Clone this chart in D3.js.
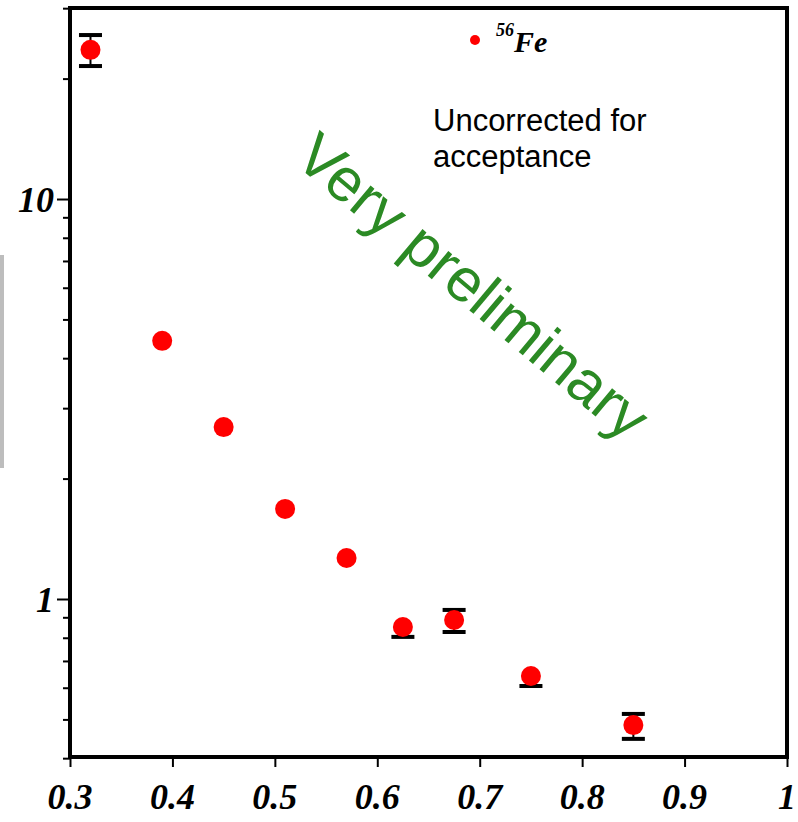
<!DOCTYPE html>
<html><head><meta charset="utf-8">
<script src="https://cdn.jsdelivr.net/npm/d3@7"></script>
<style>body{margin:0;background:#fff}</style></head>
<body>
<svg id="c" width="798" height="822"></svg>
<script>
const xValues = [0.32, 0.39, 0.45, 0.51, 0.57, 0.625, 0.675, 0.75, 0.85];
const yValues = [23.6, 4.42, 2.69, 1.68, 1.266, 0.851, 0.886, 0.642, 0.484];
const errLow  = [21.5, null, null, null, null, 0.804, 0.827, 0.606, 0.447];
const errHigh = [25.7, null, null, null, null, null, 0.939, null, 0.516];
const xTicks = [0.3, 0.4, 0.5, 0.6, 0.7, 0.8, 0.9, 1.0];
const xTickLabels = ["0.3", "0.4", "0.5", "0.6", "0.7", "0.8", "0.9", "1"];
const yMajor = [1, 10];
const yMajorLabels = ["1", "10"];
const yMinor = [0.4, 0.5, 0.6, 0.7, 0.8, 0.9, 2, 3, 4, 5, 6, 7, 8, 9, 20, 30];
const legendLabel = {sup: "56", main: "Fe"};
const note = ["Uncorrected for", "acceptance"];
const watermark = "Very preliminary";

const svg = d3.select("#c");
const L = 70, R = 787, T = 8, B = 757;
const x = d3.scaleLinear().domain([0.3, 1.0]).range([L, R]);
const y = d3.scaleLog().domain([0.4027, 30.03]).range([B, T]);

// gray artifact bar at left
svg.append("rect").attr("x", 0).attr("y", 255).attr("width", 4).attr("height", 213).attr("fill", "#bdbdbd");

// watermark
svg.append("text")
  .attr("transform", `translate(470,290) rotate(40)`)
  .attr("text-anchor", "middle").attr("dominant-baseline", "middle")
  .attr("font-family", "Liberation Sans, Arial, sans-serif")
  .attr("font-size", 61).attr("fill", "#2b8a24")
  .text(watermark);

// note text
const nt = svg.append("text").attr("font-family", "Liberation Sans, Arial, sans-serif")
  .attr("font-size", 31).attr("fill", "#000");
note.forEach((s, i) => nt.append("tspan").attr("x", 433).attr("y", 131 + i * 36).text(s));

// legend
svg.append("circle").attr("cx", 475).attr("cy", 40).attr("r", 5).attr("fill", "#f00");
const lt = svg.append("text").attr("x", 496).attr("y", 52)
  .attr("font-family", "Liberation Serif, Times New Roman, serif")
  .attr("font-weight", "bold").attr("font-style", "italic").attr("fill", "#000");
lt.append("tspan").attr("font-size", 18).attr("dy", -16).text(legendLabel.sup);
lt.append("tspan").attr("font-size", 30).attr("dy", 16).text(legendLabel.main);

// axes ticks
const xAxis = d3.axisBottom(x).tickValues(xTicks).tickSize(10).tickFormat("");
const gx = svg.append("g").attr("transform", `translate(0,${B})`).call(xAxis);
gx.select(".domain").remove();
gx.selectAll("line").attr("stroke", "#000").attr("stroke-width", 2);

const gyMaj = svg.append("g").attr("transform", `translate(${L},0)`)
  .call(d3.axisLeft(y).tickValues(yMajor).tickSize(13).tickFormat(""));
gyMaj.select(".domain").remove();
gyMaj.selectAll("line").attr("stroke", "#000").attr("stroke-width", 2);
const gyMin = svg.append("g").attr("transform", `translate(${L},0)`)
  .call(d3.axisLeft(y).tickValues(yMinor).tickSize(7).tickFormat(""));
gyMin.select(".domain").remove();
gyMin.selectAll("line").attr("stroke", "#000").attr("stroke-width", 2);

// tick labels
const lblFont = "Liberation Serif, Times New Roman, serif";
svg.append("g").selectAll("text").data(xTicks).join("text")
  .attr("x", d => x(d)).attr("y", 809).attr("text-anchor", "middle")
  .attr("font-family", lblFont).attr("font-weight", "bold").attr("font-style", "italic")
  .attr("font-size", 36).attr("fill", "#000")
  .text((d, i) => xTickLabels[i]);
svg.append("g").selectAll("text").data(yMajor).join("text")
  .attr("x", 54).attr("y", d => y(d) + 13).attr("text-anchor", "end")
  .attr("font-family", lblFont).attr("font-weight", "bold").attr("font-style", "italic")
  .attr("font-size", 36).attr("fill", "#000")
  .text((d, i) => yMajorLabels[i]);

// frame
svg.append("rect").attr("x", L).attr("y", T).attr("width", R - L).attr("height", B - T)
  .attr("fill", "none").attr("stroke", "#000").attr("stroke-width", 4);

// error bars
const data = xValues.map((v, i) => ({x: v, y: yValues[i], lo: errLow[i], hi: errHigh[i]}));
const eb = svg.append("g");
data.forEach(d => {
  if (d.lo != null) {
    eb.append("line").attr("x1", x(d.x)).attr("x2", x(d.x)).attr("y1", y(d.y)).attr("y2", y(d.lo))
      .attr("stroke", "#000").attr("stroke-width", 2);
    eb.append("rect").attr("x", x(d.x) - 11.5).attr("y", y(d.lo) - 2).attr("width", 23).attr("height", 4).attr("fill", "#000");
  }
  if (d.hi != null) {
    eb.append("line").attr("x1", x(d.x)).attr("x2", x(d.x)).attr("y1", y(d.y)).attr("y2", y(d.hi))
      .attr("stroke", "#000").attr("stroke-width", 2);
    eb.append("rect").attr("x", x(d.x) - 11.5).attr("y", y(d.hi) - 2).attr("width", 23).attr("height", 4).attr("fill", "#000");
  }
});

// points
svg.append("g").selectAll("circle").data(data).join("circle")
  .attr("cx", d => x(d.x)).attr("cy", d => y(d.y)).attr("r", 10).attr("fill", "#f00");
</script>
</body></html>
